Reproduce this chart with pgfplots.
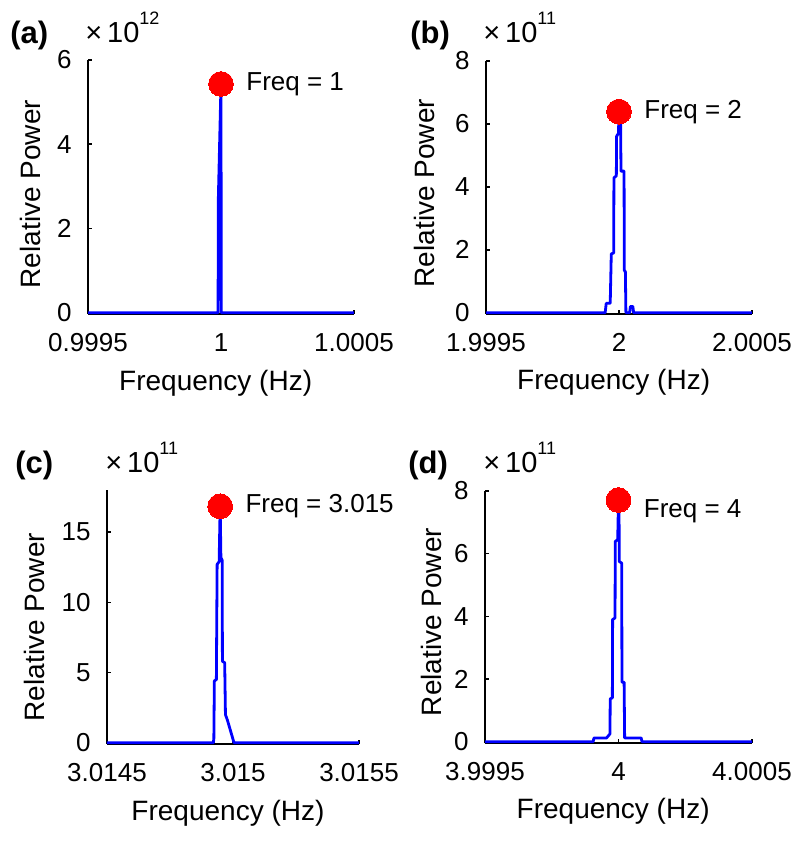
\documentclass[border=0pt]{standalone}
\usepackage{fontspec}
\setmainfont{Liberation Sans}
\usepackage{pgfplots}
\pgfplotsset{compat=1.18}

% x values are offsets from the panel's centre frequency, in micro-Hz
\pgfplotsset{
  panel/.style={
    scale only axis, anchor=south west,
    axis x line=bottom, axis y line=left,
    axis line style={-, black, line width=0.8pt},
    tick align=inside, major tick length=2pt,
    tick style={black, line width=0.8pt},
    xmin=-500, xmax=500, xtick={-500,0,500},
    /pgf/number format/assume math mode=true,
    tick label style={font=\fontsize{13}{15}\selectfont},
    xticklabel style={anchor=base, yshift=-19pt},
    yticklabel style={anchor=east, inner sep=0pt, xshift=-8pt},
    label style={font=\fontsize{14}{16}\selectfont},
    xlabel={Frequency (Hz)}, ylabel={Relative Power},
    xlabel style={at={(axis description cs:0.48,-0.30)}, anchor=base},
    scaled y ticks=false, clip=false,
  },
  trace/.style={blue, line width=1.4pt, line join=round},
  peak/.style={only marks, red, mark=*, mark size=6.2pt, mark options={draw=red, fill=red, line width=0pt}},
}
\tikzset{note/.style={anchor=west, inner sep=0pt, xshift=12.5pt, font=\fontsize{13}{15}\selectfont}}
\newcommand{\ptag}[1]{{\fontsize{15.5}{17}\selectfont\bfseries #1}}
\newcommand{\expo}[1]{×\,10\raisebox{9pt}{\fontsize{9}{9}\selectfont #1}}

\begin{document}
\begin{tikzpicture}
\useasboundingbox (0,0) rectangle (400pt,420.5pt);

% (a)
\begin{axis}[panel, at={(44pt,263.5pt)}, width=133pt, height=127pt,
    ymin=-0.03, ymax=6, ytick={0,2,4,6},
    xticklabels={0.9995,1,1.0005},
    ylabel style={at={(axis description cs:-0.218,0.472)}, anchor=center}]
\addplot[trace] coordinates {(-500,0) (-11,0) (-10,2.7) (0,5.43) (1,0) (500,0)};
\addplot[peak] coordinates {(0,5.43)};
\node[note] at (axis cs:0,5.43) {Freq = 1};
\end{axis}

% (b)
\begin{axis}[panel, at={(243pt,263.5pt)}, width=133pt, height=126.5pt,
    ymin=-0.04, ymax=8, ytick={0,2,4,6,8},
    xticklabels={1.9995,2,2.0005},
    ylabel style={at={(axis description cs:-0.233,0.478)}, anchor=center}]
\addplot[trace] coordinates {(-500,0) (-52,0) (-48,0.3) (-33,0.3) (-29,1.87) (-20,1.9)
    (-19,4.29) (-10,4.35) (-9,5.61) (-2,5.7) (0,6.39) (6,6.1) (7.5,4.5) (19,4.5)
    (20,1.35) (24,1.3) (26,0) (40,0) (43,0.2) (52,0.2) (55,0) (500,0)};
\addplot[peak] coordinates {(0,6.39)};
\node[note] at (axis cs:0,6.39) {Freq = 2};
\end{axis}

% (c)
\begin{axis}[panel, at={(53.5pt,48.5pt)}, width=126pt, height=127pt,
    ymin=-0.09, ymax=18, ytick={0,5,10,15},
    xticklabels={3.0145,3.015,3.0155},
    ylabel style={at={(axis description cs:-0.286,0.46)}, anchor=center}]
\addplot[trace] coordinates {(-500,0) (-78,0) (-76,0.3) (-74,4.4) (-66,4.5) (-63,12.7)
    (-55,12.9) (-51,16.84) (-48,13.2) (-43,13.0) (-42,5.8) (-33,5.7) (-30,2.0)
    (-22,1.6) (4,0) (500,0)};
\addplot[peak] coordinates {(-51,16.84)};
\node[note] at (axis cs:-51,16.84) {Freq = 3.015};
\end{axis}

% (d)
\begin{axis}[panel, at={(242.5pt,49pt)}, width=133.5pt, height=126pt,
    ymin=-0.04, ymax=8, ytick={0,2,4,6,8},
    xticklabels={3.9995,4,4.0005},
    ylabel style={at={(axis description cs:-0.202,0.48)}, anchor=center}]
\addplot[trace] coordinates {(-500,0) (-95,0) (-92,0.12) (-45,0.12) (-32,0.25) (-31,1.37)
    (-23,1.4) (-22,3.9) (-13,3.95) (-12,6.39) (-3,6.45) (0,7.71) (2,7.3) (3,5.75)
    (12,5.7) (13,1.9) (21,1.9) (23,0.12) (85,0.12) (88,0) (500,0)};
\addplot[peak] coordinates {(0,7.71)};
\node[note] at (axis cs:0,7.36) {Freq = 4};
\end{axis}

% panel tags and exponent labels
\node[anchor=base west, inner sep=0pt] at (5pt,398.5pt) {\ptag{(a)}};
\node[anchor=base west, inner sep=0pt] at (205pt,398.5pt) {\ptag{(b)}};
\node[anchor=base west, inner sep=0pt] at (7.5pt,183.5pt) {\ptag{(c)}};
\node[anchor=base west, inner sep=0pt] at (204pt,183.5pt) {\ptag{(d)}};
\node[anchor=base west, inner sep=0pt, font=\fontsize{14.5}{16}\selectfont] at (42.5pt,399pt) {\expo{12}};
\node[anchor=base west, inner sep=0pt, font=\fontsize{14.5}{16}\selectfont] at (241.5pt,399pt) {\expo{11}};
\node[anchor=base west, inner sep=0pt, font=\fontsize{14.5}{16}\selectfont] at (52.5pt,184pt) {\expo{11}};
\node[anchor=base west, inner sep=0pt, font=\fontsize{14.5}{16}\selectfont] at (241.5pt,184pt) {\expo{11}};
\end{tikzpicture}
\end{document}
